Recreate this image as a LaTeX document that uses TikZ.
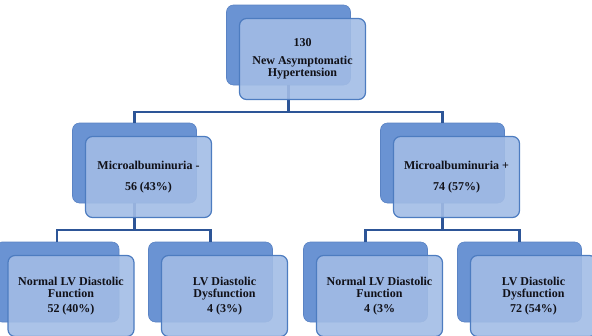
\documentclass[tikz,border=0pt]{standalone}
\usepackage{fontspec}
\setmainfont{Liberation Serif}
\usetikzlibrary{positioning}
\definecolor{backBlue}{HTML}{6A93D3}
\definecolor{backEdge}{HTML}{5A83C4}
\definecolor{frontBlue}{HTML}{A2BCE5}
\definecolor{frontEdge}{HTML}{4D7CC0}
\definecolor{linkBlue}{HTML}{2D5597}
\definecolor{textDark}{HTML}{111118}

\begin{document}
\begin{tikzpicture}[x=1pt, y=-1pt, semithick]
        \tikzset{
           backBox/.style={
                        rectangle,
                        rounded corners=7pt,
                        draw=backEdge,
                        fill=backBlue,
                        minimum width=124pt,
                        minimum height=80pt
                       },
           frontBox/.style={
                        rectangle,
                        rounded corners=7pt,
                        draw=frontEdge,
                        line width=1.2pt,
                        fill=frontBlue,
                        fill opacity=0.9,
                        text opacity=1,
                        minimum width=126pt,
                        minimum height=81pt,
                        align=center,
                        font=\fontsize{12}{12}\selectfont\bfseries,
                        text=textDark
                       },
           link/.style={
                        draw=linkBlue,
                        line width=2.2pt
                       },
                 };
        \useasboundingbox (0,0) rectangle (592,335);
        \clip (0,0) rectangle (592,335);
    %--------------------
        \node[backBox] (rootBack)        at (288.5,45)  {};

        \node[backBox] (minusBack)       at (134.5,163) {};
        \node[backBox] (plusBack)        at (442.5,163) {};

        \node[backBox] (minusNormalBack) at (57,282)    {};
        \node[backBox] (minusDysBack)    at (210.5,282) {};
        \node[backBox] (plusNormalBack)  at (365.5,282) {};
        \node[backBox] (plusDysBack)     at (519.5,282) {};
    %--------------------
        \path[link] (rootBack.south)  -- ++(0,27) -| (minusBack.north)
                    (rootBack.south)  -- ++(0,27) -| (plusBack.north)

                    (minusBack.south) -- ++(0,27) -| (minusNormalBack.north)
                    (minusBack.south) -- ++(0,27) -| (minusDysBack.north)

                    (plusBack.south)  -- ++(0,27) -| (plusNormalBack.north)
                    (plusBack.south)  -- ++(0,27) -| (plusDysBack.north);
    %--------------------
        \node[frontBox] (root)        at ([shift={(14,14)}]rootBack)        {130\\[6pt]New Asymptomatic\\Hypertension};

        \node[frontBox] (minus)       at ([shift={(14,14)}]minusBack)       {Microalbuminuria -\\[9pt]56 (43\%)};
        \node[frontBox] (plus)        at ([shift={(14,14)}]plusBack)        {Microalbuminuria +\\[9pt]74 (57\%)};

        \node[frontBox] (minusNormal) at ([shift={(14,14)}]minusNormalBack) {Normal LV Diastolic\\Function\\[3pt]52 (40\%)};
        \node[frontBox] (minusDys)    at ([shift={(14,14)}]minusDysBack)    {LV Diastolic\\Dysfunction\\[3pt]4 (3\%)};
        \node[frontBox] (plusNormal)  at ([shift={(14,14)}]plusNormalBack)  {Normal LV Diastolic\\Function\\[3pt]4 (3\%};
        \node[frontBox] (plusDys)     at ([shift={(14,14)}]plusDysBack)     {LV Diastolic\\Dysfunction\\[3pt]72 (54\%)};
    \end{tikzpicture}
\end{document}
